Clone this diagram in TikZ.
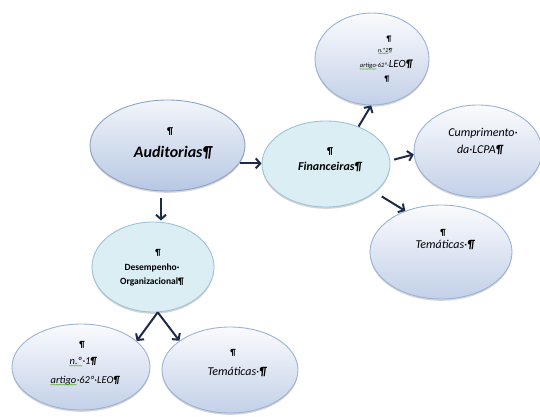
\documentclass[tikz,border=0pt]{standalone}
\usepackage{fontspec}
\setmainfont{Carlito}
\usetikzlibrary{shapes.geometric,arrows.meta,shadows,decorations.pathmorphing}

\definecolor{rimblue}{HTML}{9AB3D5}
\definecolor{rimdark}{HTML}{8CA3C9}
\definecolor{bubtop}{HTML}{FAFBFD}
\definecolor{bubbot}{HTML}{C3D0E8}
\definecolor{audtop}{HTML}{F2F5FA}
\definecolor{audbot}{HTML}{B7C7E3}
\definecolor{cyanfill}{HTML}{DAEEF3}
\definecolor{cyanrim}{HTML}{A0C2D8}
\definecolor{linkcol}{HTML}{1D2B45}
\definecolor{spellgreen}{HTML}{5FAE3C}

\tikzset{
  bubble/.style={ellipse, draw=rimblue, line width=0.9pt, top color=bubtop,
    bottom color=bubbot, inner sep=0pt,
    drop shadow={shadow xshift=0pt, shadow yshift=-1.8pt, opacity=0.3, fill=black!55}},
  tealbubble/.style={bubble, top color=cyanfill, bottom color=cyanfill, draw=cyanrim},
  link/.style={draw=linkcol, line width=2pt,
    -{Straight Barb[length=4.5pt, width=10pt, line width=2pt]}},
  txt/.style={inner sep=0pt, align=center, text=black},
}

% green wavy spelling mark under a word
\newcommand\spellmark[1]{\tikz[baseline=(sw.base)]{\node[inner sep=0pt] (sw) {#1};
  \draw[spellgreen, line width=0.4pt, decorate,
    decoration={zigzag, amplitude=0.35pt, segment length=1.4pt}]
    ([yshift=-1pt]sw.base west) -- ([yshift=-1pt]sw.base east);}}
\newcommand\fsz[1]{\fontsize{#1}{#1}\selectfont}
\newcommand\pil{{\bfseries ¶}}

\begin{document}
\begin{tikzpicture}[x=1pt, y=-1pt]
\useasboundingbox (0,0) rectangle (540,417);

% ellipses
\node[bubble, top color=audtop, bottom color=audbot, draw=rimdark,
      minimum width=155pt, minimum height=91pt] (aud) at (167.5,145.5) {};
\node[bubble, minimum width=114pt, minimum height=92pt] (art) at (372,59) {};
\node[tealbubble, minimum width=128pt, minimum height=86pt] (fin) at (326,164) {};
\node[bubble, minimum width=128pt, minimum height=92pt] (cum) at (478,151) {};
\node[bubble, minimum width=142pt, minimum height=94pt] (temr) at (441,252) {};
\node[tealbubble, minimum width=122pt, minimum height=90pt] (des) at (153,267) {};
\node[bubble, minimum width=138pt, minimum height=86pt] (num) at (81,367) {};
\node[bubble, minimum width=136pt, minimum height=86pt] (teml) at (230,370) {};

% texts
\node[txt, font=\bfseries\fsz{10}] (audA) at (170,132) {¶};
\node[txt, font=\bfseries\itshape\fsz{16}] (audB) at (173,153) {Auditorias¶};

\node[txt, font=\bfseries\fsz{8}] (artA) at (389,39) {¶};
\node[txt, font=\itshape\fsz{6}] (artB) at (385,51) {\spellmark{n.º2}¶};
\node[txt, font=\itshape\fsz{11}] (artC) at (386,65) {{\fsz{6.5}\spellmark{artigo}·62º·}LEO\pil};
\node[txt, font=\bfseries\fsz{8}] (artD) at (387,79) {¶};

\node[txt, font=\bfseries\fsz{10}] (finA) at (330,152) {¶};
\node[txt, font=\bfseries\itshape\fsz{12}] (finB) at (330,167) {Financeiras¶};

\node[txt, font=\itshape\fsz{12}] (cumA) at (483,133) {Cumprimento·};
\node[txt, font=\itshape\fsz{12}] (cumB) at (480,150) {da·LCPA\pil};

\node[txt, font=\bfseries\fsz{9}] (temrA) at (443,233) {¶};
\node[txt, font=\itshape\fsz{12}] (temrB) at (445,245) {Temáticas·\pil};

\node[txt, font=\bfseries\fsz{9}] (desA) at (158,253) {¶};
\node[txt, font=\bfseries\fsz{9.5}] (desB) at (152,268) {Desempenho·};
\node[txt, font=\bfseries\fsz{9.5}] (desC) at (152,282) {Organizacional¶};

\node[txt, font=\bfseries\fsz{9}] (numA) at (82,345) {¶};
\node[txt, font=\itshape\fsz{10.5}] (numB) at (83,362) {\spellmark{n.º}·1\pil};
\node[txt, font=\itshape\fsz{10.5}] (numC) at (85,381) {\spellmark{artigo}·62º·LEO\pil};

\node[txt, font=\bfseries\fsz{9}] (temlA) at (233,353) {¶};
\node[txt, font=\itshape\fsz{12}] (temlB) at (237,372) {Temáticas·\pil};

% connectors
\draw[link, shorten <=1pt] (aud.-14) -- (aud.-14 -| fin.west);
\draw[link, shorten <=7pt, shorten >=1pt]
  ([xshift=8pt]des.north |- aud.south) -- ([xshift=8pt]des.north);
\draw[link] (fin.49) -- (art.-91);
\draw[link, shorten <=4pt] (fin.3) -- (cum.183);
\draw[link, shorten <=8pt] (fin.-30) -- (temr.131);
\draw[link] (des.-84) -- (num.25);
\draw[link] (des.-84) -- (teml.150);
\end{tikzpicture}
\end{document}
